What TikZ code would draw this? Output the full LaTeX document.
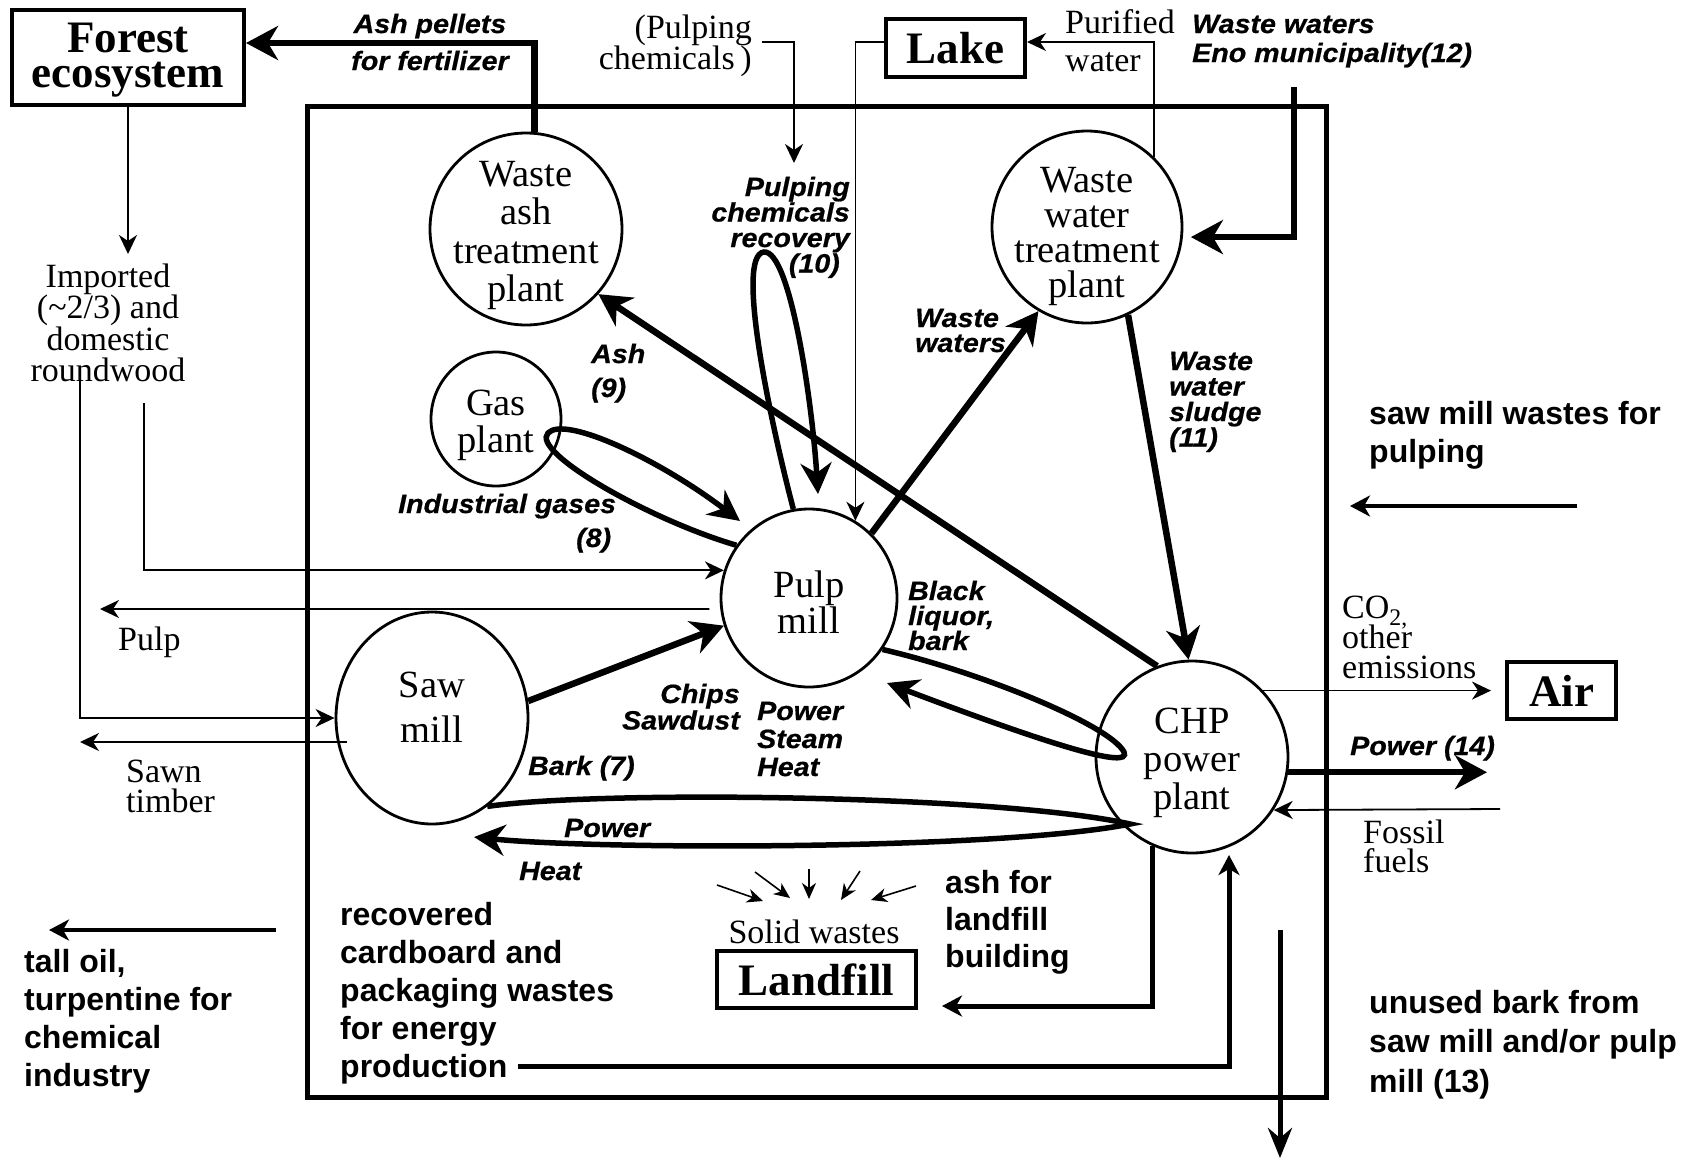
\documentclass[tikz,border=0pt]{standalone}
\usepackage{fontspec}
\setmainfont{Liberation Serif}
\newfontfamily\labf[FakeStretch=1.08,FakeBold=0.6]{Liberation Sans}
\newfontfamily\sansf{Liberation Sans}
\usetikzlibrary{shapes.geometric,arrows.meta}
\newcommand\blkC[2]{\vtop{\baselineskip=#1\relax\lineskiplimit=-1000pt\lineskip=0pt\halign{\hfil##\hfil\cr#2\crcr}}}
\newcommand\blkL[2]{\vtop{\baselineskip=#1\relax\lineskiplimit=-1000pt\lineskip=0pt\halign{##\hfil\cr#2\crcr}}}
\newcommand\blkR[2]{\vtop{\baselineskip=#1\relax\lineskiplimit=-1000pt\lineskip=0pt\halign{\hfil##\cr#2\crcr}}}
\tikzset{
  every node/.style={inner sep=0pt},
  proc/.style={draw, ellipse, line width=2.8pt},
  boxn/.style={draw, rectangle, line width=4pt, font=\fontsize{45}{45}\selectfont\bfseries},
  etx/.style={font=\fontsize{38.5}{38}\selectfont},
  ser/.style={font=\fontsize{34}{34}\selectfont},
  lbl/.style={font=\labf\fontsize{26.5}{26}\selectfont\bfseries\itshape},
  bsans/.style={font=\sansf\fontsize{32}{32}\selectfont\bfseries},
  tline/.style={line width=1.8pt, -{Stealth[length=19pt,width=18pt,inset=6pt]}},
  sline/.style={line width=1.6pt, -{Stealth[length=16pt,width=14pt,inset=5pt]}},
  tkline/.style={line width=6.5pt, -{Stealth[length=32pt,width=34pt,inset=10pt]}},
  mline/.style={line width=4.5pt, -{Stealth[length=20pt,width=21pt,inset=6pt]}},
  lpline/.style={line width=5.5pt, -{Stealth[length=31pt,width=31pt,inset=10pt]}},
}
\begin{document}
\begin{tikzpicture}[x=1pt,y=-1pt]
\fill[white] (0,0) rectangle (1698,1160);
\useasboundingbox (0,0) rectangle (1698,1160);

% helper coordinates
\coordinate (y42) at (0,42);
\coordinate (y43) at (0,43);
\coordinate (rwA) at (80,377);
\coordinate (rwB) at (144,403);
\coordinate (pulpend) at (100,609);
\coordinate (sawnA) at (347,742);
\coordinate (sawnend) at (80,742);
\coordinate (pcA) at (762,42);
\coordinate (pcB) at (794,163);
\coordinate (chemtip) at (818,494);
\coordinate (gastip) at (740,521);
\coordinate (enoA) at (1294,87);
\coordinate (blnose) at (1124,752);
\coordinate (bltip) at (887,683);
\coordinate (bknose) at (1130,824);
\coordinate (bktip) at (474,837);
\coordinate (co2tip) at (1491,690);
\coordinate (p14tip) at (1487,773);
\coordinate (fosA) at (1500,809);
\coordinate (lftip) at (942,1006);
\coordinate (recA) at (518,1066);
\coordinate (rectip) at (1229,855);
\coordinate (ubA) at (1280,930);
\coordinate (ubtip) at (1280,1158);
\coordinate (swA) at (1577,506);
\coordinate (swtip) at (1350,506);
\coordinate (toA) at (276,930);
\coordinate (totip) at (49,930);

% frame
\draw[line width=5pt] (307,106) rectangle (1326,1097);

% boxes
\node[boxn, minimum width=232pt, minimum height=95pt] (forest) at (128,57.5) {};
\node[font=\fontsize{45}{45}\selectfont\bfseries, anchor=base] (forestt) at (128,52) {\blkC{35pt}{Forest\cr ecosystem}};
\node[boxn, minimum width=139pt, minimum height=58pt] (lake) at (955.5,48) {Lake};
\node[boxn, minimum width=109pt, minimum height=57pt] (air) at (1561.5,690.5) {Air};
\node[boxn, minimum width=199pt, minimum height=57pt] (landfill) at (816.5,979.5) {Landfill};

% process ellipses
\node[proc, minimum width=192pt, minimum height=192pt] (wa) at (526,229) {};
\node[proc, minimum width=130pt, minimum height=134pt] (gp) at (496,419) {};
\node[proc, minimum width=176pt, minimum height=178pt] (pm) at (809,598) {};
\node[proc, minimum width=192pt, minimum height=212pt] (sm) at (432,718) {};
\node[proc, minimum width=190pt, minimum height=192pt] (ww) at (1087,227) {};
\node[proc, minimum width=192pt, minimum height=192pt] (chp) at (1192,757) {};

\node[etx, anchor=base] (wat) at (526,186) {\blkC{38.5pt}{Waste\cr ash\cr treatment\cr plant}};
\node[etx, anchor=base] (gpt) at (496,415) {\blkC{37pt}{Gas\cr plant}};
\node[etx, anchor=base] (pmt) at (809,597) {\blkC{36pt}{Pulp\cr mill}};
\node[etx, anchor=base] (smt) at (432,697) {\blkC{45pt}{Saw\cr mill}};
\node[etx, anchor=base] (wwt) at (1087,192) {\blkC{35pt}{Waste\cr water\cr treatment\cr plant}};
\node[etx, anchor=base] (chpt) at (1192,733) {\blkC{38pt}{CHP\cr power\cr plant}};

% serif labels
\node[ser, anchor=base east] (pchem) at (752,38) {\blkR{31pt}{(Pulping\cr chemicals\,)}};
\node[ser, anchor=base west] (purif) at (1065,33.5) {\blkL{38pt}{Purified\cr water}};
\node[ser, anchor=base] (imp) at (108,287) {\blkC{31.5pt}{Imported\cr (\textasciitilde2/3) and\cr domestic\cr roundwood}};
\node[ser, anchor=base west] (pulpl) at (118,650) {Pulp};
\node[ser, anchor=base west] (sawn) at (126,782) {\blkL{30pt}{Sawn\cr timber}};
\node[ser, anchor=base west] (co2) at (1342,618) {\blkL{30pt}{CO\textsubscript{2,}\cr other\cr emissions}};
\node[ser, anchor=base west] (fossil) at (1363,843) {\blkL{29pt}{Fossil\cr fuels}};
\node[ser, anchor=base] (solid) at (814,943) {Solid wastes};

% bold italic flow labels
\node[lbl, anchor=base] (ashpel) at (430,33) {\blkC{37pt}{Ash pellets\cr for fertilizer}};
\node[lbl, anchor=base east] (pcr) at (850,196) {\blkR{25.5pt}{Pulping\cr chemicals\cr recovery\cr (10)\kern10pt}};
\node[lbl, anchor=base west] (ash9) at (591,363) {\blkL{34pt}{Ash\cr (9)}};
\node[lbl, anchor=base west] (wwl) at (915,327) {\blkL{25pt}{Waste\cr waters}};
\node[lbl, anchor=base west] (sludge) at (1169,370) {\blkL{25.5pt}{Waste\cr water\cr sludge\cr (11)}};
\node[lbl, anchor=base west] (indg) at (398,513) {Industrial gases};
\node[lbl, anchor=base west] (indg8) at (576,547) {(8)};
\node[lbl, anchor=base east] (chips) at (740,703) {\blkR{26.5pt}{Chips\cr Sawdust}};
\node[lbl, anchor=base west] (pshl) at (757,720) {\blkL{28pt}{Power\cr Steam\cr Heat}};
\node[lbl, anchor=base west] (blk) at (908,600) {\blkL{25pt}{Black\cr liquor,\cr bark}};
\node[lbl, anchor=base west] (bark7) at (528,775) {Bark (7)};
\node[lbl, anchor=base west] (powl) at (564,837) {Power};
\node[lbl, anchor=base west] (heatl) at (519,880) {Heat};
\node[lbl, anchor=base west] (p14) at (1350,755) {Power (14)};
\node[lbl, anchor=base west] (eno) at (1192,33) {\blkL{29pt}{Waste waters\cr Eno municipality(12)}};

% bold sans notes
\node[bsans, anchor=base west] (swl) at (1369,424) {\blkL{38pt}{saw mill wastes for\cr pulping}};
\node[bsans, anchor=base west] (tall) at (24,972) {\blkL{38.3pt}{tall oil,\cr turpentine for\cr chemical\cr industry}};
\node[bsans, anchor=base west] (recov) at (340,925) {\blkL{38pt}{recovered\cr cardboard and\cr packaging wastes\cr for energy\cr production}};
\node[bsans, anchor=base west] (ashlf) at (945,893) {\blkL{37pt}{ash for\cr landfill\cr building}};
\node[bsans, anchor=base west] (unused) at (1369,1013) {\blkL{39.5pt}{unused bark from\cr saw mill and/or pulp\cr mill (13)}};

% thin connectors
\draw[tline] (forest.south) -- ++(0,147);
\draw[tline] (rwA) |- (sm.west);
\draw[tline] (rwB) |- (pm.162);
\draw[tline] ([xshift=-11pt]pm.-173) -- (pulpend);
\draw[tline] (sawnA) -- (sawnend);
\draw[tline] (pcA) -| (pcB);
\draw[tline] (lake.west |- y42) -| (pm.59);
\draw[tline] (ww.46) |- (lake.east |- y42);
\draw[tline] (chp.43) -- (chp.43 -| co2tip);
\draw[tline] (fosA) -- (chp.-33);

% thick connectors
\draw[tkline] (wa.85) |- (forest.east |- y43);
\draw[tkline] (chp.111) -- (wa.-42);
\draw[tkline] (pm.46) -- (ww.-120);
\draw[tkline] (ww.-65) -- (chp.92);
\draw[tkline] (sm.10) -- (pm.-162);
\draw[tkline] (chp.-9) -- (chp.-9 -| p14tip);
\draw[tkline, line width=6pt] (enoA) |- ([xshift=8pt]ww.-6);

% loops
\draw[lpline] (pm.100) .. controls (770,420) and (735,255) .. (764,252) .. controls (790,250) and (812,400) .. (chemtip);
\draw[lpline] (pm.144) .. controls (650,520) and (530,452) .. (548,433) .. controls (565,415) and (660,460) .. (gastip);
\draw[lpline] (pm.-35) .. controls (980,672) and (1110,725) .. (blnose) .. controls (1132,770) and (1050,745) .. (bltip);
\draw[lpline] (sm.-58) .. controls (600,790) and (1000,795) .. (bknose) .. controls (1000,850) and (600,850) .. (bktip);

% medium connectors
\draw[mline, line width=5pt] (chp.-114) |- (lftip);
\draw[mline, line width=5pt] (recA) -| (rectip);
\draw[line width=5pt, -{Stealth[length=30pt,width=24pt,inset=10pt]}] (ubA) -- (ubtip);
\draw[mline, line width=4pt] (swA) -- (swtip);
\draw[mline, line width=4pt] (toA) -- (totip);

% small arrows into landfill
\coordinate (s1a) at (717,885); \coordinate (s1b) at (763,901);
\coordinate (s2a) at (755,872); \coordinate (s2b) at (790,898);
\coordinate (s3a) at (809,869); \coordinate (s3b) at (809,899);
\coordinate (s4a) at (860,871); \coordinate (s4b) at (841,900);
\coordinate (s5a) at (916,886); \coordinate (s5b) at (871,900);
\draw[sline] (s1a) -- (s1b);
\draw[sline] (s2a) -- (s2b);
\draw[sline] (s3a) -- (s3b);
\draw[sline] (s4a) -- (s4b);
\draw[sline] (s5a) -- (s5b);
\end{tikzpicture}
\end{document}
